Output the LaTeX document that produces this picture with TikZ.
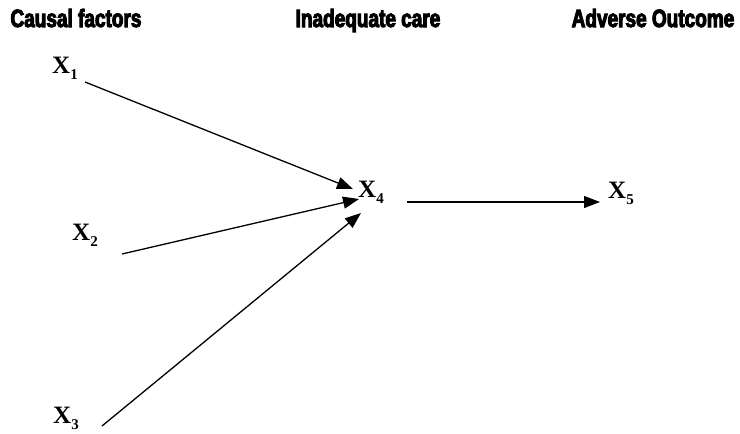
\documentclass[tikz,border=0pt]{standalone}
\usepackage{fontspec}
\setmainfont{Liberation Serif}
\newfontfamily\headfont[FakeStretch=0.76,FakeBold=4]{Liberation Sans Bold}
\usetikzlibrary{arrows.meta}
\newcommand\varlab[1]{\textbf{X\raisebox{-0.26em}{\fontsize{15pt}{15pt}\selectfont #1}}}
\begin{document}
\begin{tikzpicture}[x=1pt,y=-1pt,
  header/.style={font=\headfont\fontsize{25pt}{25pt}\selectfont, inner sep=0pt, anchor=base},
  varnode/.style={font=\fontsize{25pt}{25pt}\selectfont, inner sep=0pt, anchor=base west},
  link/.style={line width=1.3pt, -{Triangle[length=16pt,width=12pt]}}]
  \useasboundingbox (0,0) rectangle (740,434);
  % column headings
  \node[header] (hcause) at (76,27) {Causal factors};
  \node[header] (hcare) at (368,27) {Inadequate care};
  \node[header] (hout) at (653,27) {Adverse Outcome};
  % variables
  \node[varnode] (x1) at (52,73) {\varlab{1}};
  \node[varnode] (x2) at (72,240) {\varlab{2}};
  \node[varnode] (x3) at (53,423) {\varlab{3}};
  \node[varnode] (x4) at (358,197) {\varlab{4}};
  \node[varnode] (x5) at (608,198) {\varlab{5}};
  % arrow end points
  \coordinate (x1out) at (85,82);
  \coordinate (x2out) at (122,254);
  \coordinate (x3out) at (102,426);
  \coordinate (x4in1) at (353,189);
  \coordinate (x4in2) at (359,199);
  \coordinate (x4in3) at (361,213);
  \coordinate (x4out) at (407,202);
  \coordinate (x5in) at (600,202);
  % causal links
  \draw[link] (x1out) -- (x4in1);
  \draw[link] (x2out) -- (x4in2);
  \draw[link] (x3out) -- (x4in3);
  \draw[link] (x4out) -- (x5in);
\end{tikzpicture}
\end{document}
